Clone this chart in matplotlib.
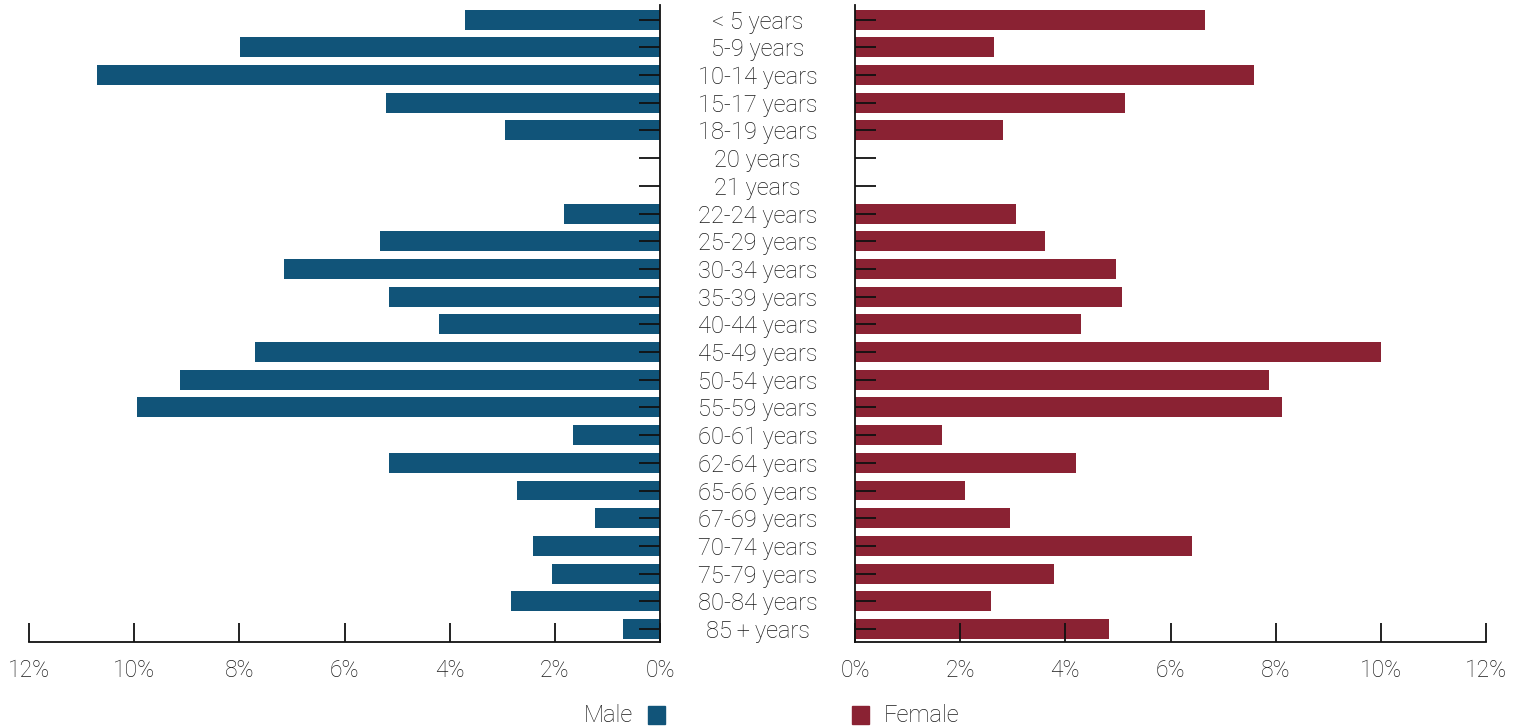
import matplotlib
matplotlib.use("Agg")
import matplotlib.pyplot as plt
from matplotlib.transforms import blended_transform_factory
from matplotlib.patches import Rectangle

plt.rcParams['font.family'] = ['Roboto', 'Liberation Sans', 'DejaVu Sans']
plt.rcParams['font.weight'] = 'light'

age_groups = ["< 5 years", "5-9 years", "10-14 years", "15-17 years", "18-19 years",
              "20 years", "21 years", "22-24 years", "25-29 years", "30-34 years",
              "35-39 years", "40-44 years", "45-49 years", "50-54 years", "55-59 years",
              "60-61 years", "62-64 years", "65-66 years", "67-69 years", "70-74 years",
              "75-79 years", "80-84 years", "85\u2009+\u2009years"]

male_pct = [3.71, 7.98, 10.70, 5.21, 2.95, 0.0, 0.0, 1.83, 5.32, 7.15,
            5.15, 4.20, 7.70, 9.13, 9.94, 1.65, 5.15, 2.72, 1.24, 2.41,
            2.05, 2.83, 0.70]

female_pct = [6.65, 2.64, 7.59, 5.13, 2.81, 0.0, 0.0, 3.06, 3.61, 4.96,
              5.08, 4.30, 10.00, 7.87, 8.12, 1.65, 4.20, 2.09, 2.95, 6.41,
              3.78, 2.59, 4.83]

x_ticks = [0, 2, 4, 6, 8, 10, 12]
x_tick_labels = ["0%", "2%", "4%", "6%", "8%", "10%", "12%"]

male_color = "#115479"
female_color = "#8a2233"
text_color = "#1a1a1a"

W, H = 1518, 727
fig = plt.figure(figsize=(W / 100, H / 100), dpi=100)

bottom = 1 - 642 / H
top = 1 - 5 / H
ax_m = fig.add_axes([29 / W, bottom, 631 / W, top - bottom])
ax_f = fig.add_axes([855 / W, bottom, 631 / W, top - bottom])

ypos = list(range(len(age_groups)))

ax_m.barh(ypos, male_pct, height=0.72, color=male_color)
ax_f.barh(ypos, female_pct, height=0.72, color=female_color)

for ax in (ax_m, ax_f):
    ax.set_ylim(len(age_groups) - 0.53, -0.53)
    ax.set_xlim(0, 12)
    ax.set_xticks(x_ticks)
    ax.set_xticklabels(x_tick_labels, fontsize=16.5, color=text_color)
    ax.set_yticks(ypos)
    ax.set_yticklabels([])
    ax.spines['top'].set_visible(False)
    ax.tick_params(axis='x', direction='in', length=14, width=1.3, pad=12, color="#111111")
    ax.tick_params(axis='y', direction='in', length=15, width=1.3, color="#111111")
    for s in ax.spines.values():
        s.set_linewidth(1.3)
        s.set_color("#111111")

ax_m.invert_xaxis()
ax_m.spines['left'].set_visible(False)
ax_m.yaxis.tick_right()
ax_f.spines['right'].set_visible(False)
ax_f.yaxis.tick_left()

# Age group labels in the gap between the two panels
trans = blended_transform_factory(fig.transFigure, ax_m.transData)
for i, lab in enumerate(age_groups):
    ax_m.text(757.5 / W, i, lab,
              transform=trans, ha="center", va="center_baseline", fontsize=17,
              color=text_color, clip_on=False)

# Legend markers
fig.text(633 / W, 1 - 715 / H, "Male", ha="right", va="center", fontsize=17, color=text_color)
fig.patches.append(Rectangle((648 / W, 1 - 724 / H), 17 / W, 18 / H,
                             transform=fig.transFigure, color=male_color))
fig.patches.append(Rectangle((852 / W, 1 - 724 / H), 17 / W, 18 / H,
                             transform=fig.transFigure, color=female_color))
fig.text(884 / W, 1 - 715 / H, "Female", ha="left", va="center", fontsize=17, color=text_color)

fig.savefig("out.png", dpi=100)
